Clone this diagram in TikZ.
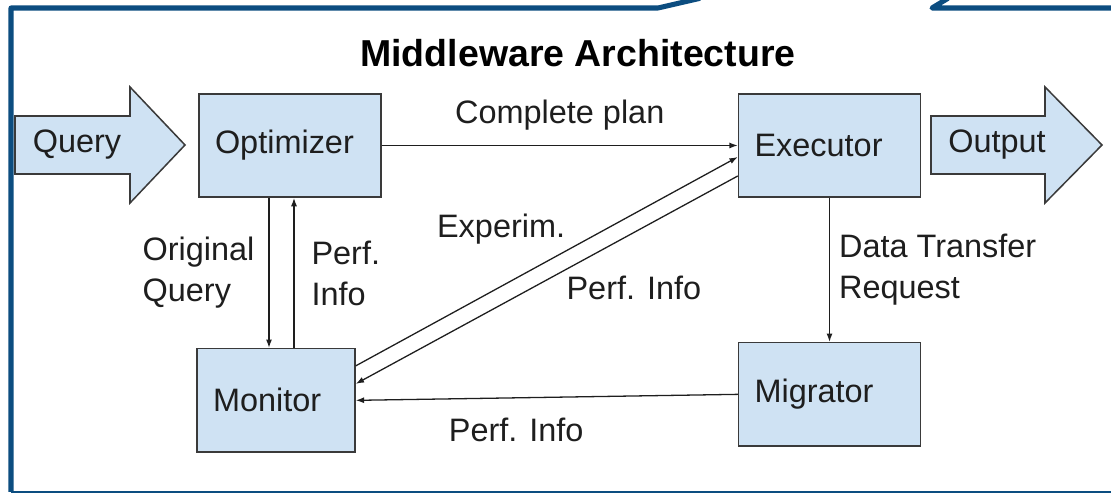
\documentclass[tikz,border=0pt]{standalone}
\usepackage{fontspec}
\setmainfont{Liberation Sans}
\usepackage{xcolor}
\usetikzlibrary{arrows.meta,positioning}

\definecolor{boxfill}{HTML}{CFE2F3}
\definecolor{boxline}{HTML}{3A3A3A}
\definecolor{textgray}{HTML}{1E1E1E}
\definecolor{frameblue}{HTML}{0C4D80}

\begin{document}
\begin{tikzpicture}[
  font=\fontsize{27.7}{35}\selectfont,
  box/.style={rectangle, draw=boxline, fill=boxfill, line width=1.3pt, minimum height=3.1cm, inner xsep=0.48cm, text width=#1, align=left, text=textgray},
  bigarrow/.style={draw=boxline, fill=boxfill, line width=1.3pt, line join=miter},
  lbl/.style={align=left, text=textgray},
  arr/.style={-{Latex[length=0.25cm,width=0.18cm]}, line width=1.1pt, draw=textgray},
  frame/.style={draw=frameblue, line width=4.3pt, line join=round}
]
\useasboundingbox (0,0) rectangle (33.33,14.82);

\draw[frame] (21.0,14.87) -- (19.74,14.58) -- (0.33,14.58) -- (0.33,0.06);
\draw[frame] (28.44,14.87) -- (27.96,14.58) -- (33.5,14.58);
\draw[draw=frameblue, line width=1.8pt] (0.33,0.06) -- (33.5,0.06);

\node[font=\fontsize{32}{36}\selectfont\bfseries] (title) at (17.34,13.23) {Middleware Architecture};

\node[box=4.5cm] (opt) at (8.7,10.455) {Optimizer};
\node[box=4.5cm, right=10.68cm of opt] (exe) {Executor};
\node[box=3.78cm, below=4.5cm of opt, xshift=-0.42cm] (mon) {Monitor};
\node[box=4.5cm, below=4.32cm of exe] (mig) {Migrator};

\path[bigarrow] (0.45,9.6) -- (3.9,9.6) -- (3.9,8.73) -- (5.55,10.47) -- (3.9,12.21) -- (3.9,11.34) -- (0.45,11.34) -- cycle;
\node[lbl] (query) at (2.31,10.47) {Query};
\path[bigarrow] (27.93,9.6) -- (31.35,9.6) -- (31.35,8.73) -- (33.06,10.47) -- (31.35,12.21) -- (31.35,11.34) -- (27.93,11.34) -- cycle;
\node[lbl] (output) at (29.91,10.47) {Output};

\draw[arr] (opt) -- node[lbl, above=0.33cm] {Complete plan} (exe);
\draw[arr] ([xshift=-0.63cm]opt.south) -- ([xshift=-0.63cm]opt.south |- mon.north) node[lbl, midway, left=0.3cm] {Original\\Query};
\draw[arr] ([xshift=0.12cm]opt.south |- mon.north) -- ([xshift=0.12cm]opt.south) node[lbl, midway, right=0.39cm] {Perf.\\Info};
\draw[arr] ([yshift=1.035cm]mon.east) -- ([yshift=-0.345cm]exe.west) node[lbl, pos=0.56, above left=0pt] {Experim.};
\draw[arr] ([yshift=-0.915cm]exe.west) -- ([yshift=0.495cm]mon.east) node[lbl, pos=0.46, below right=0pt] {Perf. Info};
\draw[arr] (exe) -- node[lbl, right=0.15cm] {Data Transfer\\Request} (mig);
\draw[arr] (mig.west) -- node[lbl, pos=0.58, below=0.48cm] {Perf. Info} (mon.east);
\end{tikzpicture}
\end{document}
